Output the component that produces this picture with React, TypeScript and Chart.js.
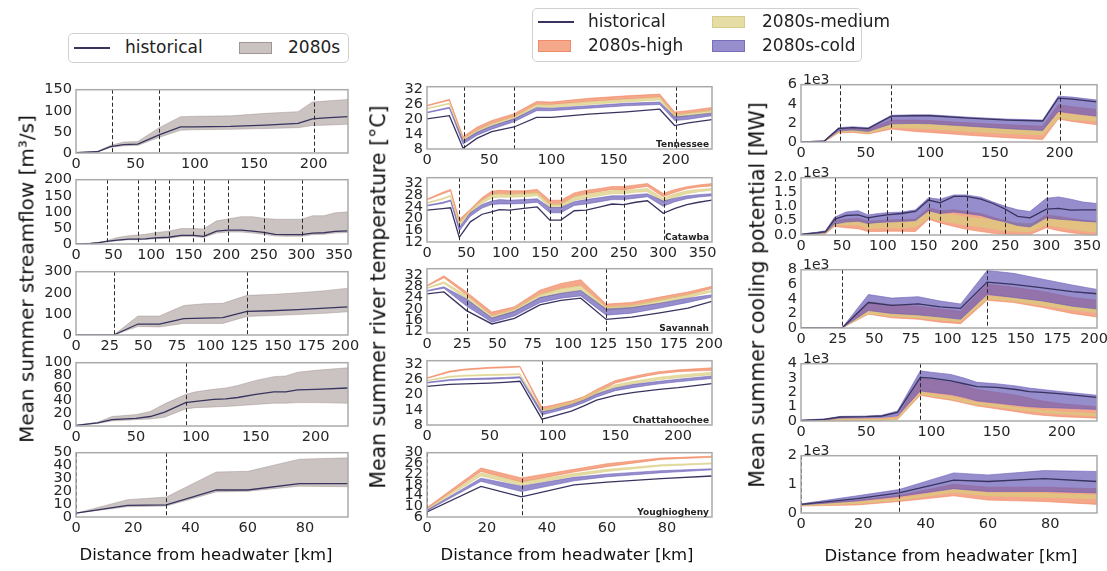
import React, { useEffect, useRef } from 'react';
import { Chart, registerables } from 'chart.js';
Chart.register(...registerables);

// ---------------- DATA ----------------
// Distances from headwater (km) for each river
const TN_X = [0, 18, 29, 40, 52, 70, 88, 100, 130, 160, 187, 199, 210, 229];
const CAT_X = [0, 20, 30, 41, 55, 70, 82, 92, 105, 123, 140, 156, 170, 187, 202, 220, 235, 250, 265, 280, 300, 315, 330, 345, 362];
const SAV_X = [0, 12, 28, 46, 62, 80, 95, 109, 127, 145, 165, 185, 202];
const CHA_X = [0, 18, 30, 50, 62, 74, 91.5, 100, 115, 125, 135, 150, 165, 175, 185, 200, 227];
const YOU_X = [0, 18, 31.5, 49, 60, 78, 95];

// Dam / confluence markers (km)
const TN_BREAKS = [30, 70, 200];
const CAT_BREAKS = [41, 82.5, 105, 123.5, 156, 170.5, 202.5, 250, 300.5];
const SAV_BREAKS = [28, 127];
const CHA_BREAKS = [91.5];
const YOU_BREAKS = [0, 31.5];

// Streamflow [m3/s]
const TN_FLOW_HIST = [1, 3, 15, 20, 21, 43, 62, 62, 63, 66, 70, 81, 83, 86];
const TN_FLOW_LO = [1, 3, 13, 17, 18, 37, 54, 55, 56, 58, 60, 65, 66, 68];
const TN_FLOW_HI = [1, 4, 18, 26, 27, 60, 86, 87, 88, 94, 98, 121, 123, 127];
const CAT_FLOW_HIST = [0, 2, 4, 8, 12, 15, 15, 16, 19, 21, 27, 27, 24, 40, 43, 43, 40, 36, 30, 29, 29, 34, 35, 39, 41];
const CAT_FLOW_LO = [0, 2, 3, 7, 10, 13, 13, 14, 16, 18, 23, 23, 20, 34, 37, 37, 34, 30, 25, 24, 24, 29, 30, 34, 36];
const CAT_FLOW_HI = [0, 3, 5, 10, 20, 26, 28, 30, 35, 40, 48, 48, 47, 72, 78, 85, 85, 80, 77, 77, 77, 88, 88, 97, 100];
const SAV_FLOW_HIST = [0, 0, 0, 52, 52, 78, 80, 82, 112, 115, 120, 127, 133];
const SAV_FLOW_LO = [0, 0, 0, 40, 38, 55, 55, 55, 88, 92, 97, 103, 110];
const SAV_FLOW_HI = [0, 0, 0, 90, 90, 140, 148, 150, 188, 192, 200, 210, 222];
const CHA_FLOW_HIST = [1, 5, 10, 12, 15, 22, 37, 39, 42, 43, 45, 50, 54, 54, 57, 58, 60];
const CHA_FLOW_LO = [1, 4, 8, 10, 11, 14, 27, 29, 30, 31, 32, 34, 36, 36, 37, 37, 36];
const CHA_FLOW_HI = [1, 6, 15, 18, 23, 35, 50, 54, 58, 60, 64, 72, 78, 79, 85, 88, 92];
const YOU_FLOW_HIST = [3, 9, 9.5, 21, 21, 26, 26];
const YOU_FLOW_LO = [3, 8, 8.5, 19.5, 20, 24, 23.5];
const YOU_FLOW_HI = [3, 13.5, 15.5, 35, 35.5, 45, 46];

// River temperature [°C]
const TN_TEMP_HIST = [20.2, 21.5, 8.3, 12.3, 15.0, 16.9, 20.8, 20.8, 22.1, 23.0, 24.1, 17.5, 18.6, 19.9];
const TN_TEMP_COLD_LO = [22.6, 24.5, 10.0, 13.5, 16.0, 19.0, 23.5, 23.5, 24.5, 25.5, 26.0, 19.5, 20.0, 21.5];
const TN_TEMP_COLD_HI = [22.9, 24.9, 11.3, 14.8, 17.3, 20.2, 24.7, 24.5, 25.5, 26.5, 27.0, 21.0, 21.5, 22.5];
const TN_TEMP_MED_LO = [24.2, 26.2, 11.0, 14.5, 17.3, 20.0, 25.0, 24.8, 26.0, 27.0, 27.8, 20.5, 21.5, 22.5];
const TN_TEMP_MED_HI = [24.5, 26.6, 12.0, 15.5, 18.2, 21.0, 26.0, 25.8, 27.0, 28.0, 28.8, 22.0, 22.5, 23.7];
const TN_TEMP_HIGH_LO = [25.4, 27.7, 12.0, 15.5, 18.2, 21.0, 26.0, 26.0, 27.2, 28.2, 29.0, 21.5, 22.5, 23.5];
const TN_TEMP_HIGH_HI = [25.7, 28.1, 13.0, 16.8, 19.5, 22.3, 27.2, 27.0, 28.5, 29.5, 30.2, 23.0, 23.5, 24.8];

const CAT_TEMP_HIST = [22.9, 23.4, 23.7, 13.6, 18.9, 21.5, 22.3, 23.1, 22.9, 23.5, 24.0, 19.5, 19.5, 22.7, 22.9, 24.0, 25.0, 24.8, 25.6, 26.1, 21.8, 23.5, 24.8, 25.6, 26.3];
const CAT_TEMP_COLD_LO = [24.3, 25.2, 26.0, 15.8, 20.8, 23.6, 24.8, 25.0, 25.0, 25.2, 25.6, 22.0, 22.0, 24.5, 25.0, 25.8, 26.5, 26.5, 27.0, 27.5, 24.2, 25.8, 26.8, 27.4, 27.8];
const CAT_TEMP_COLD_HI = [24.6, 25.6, 26.4, 17.0, 22.0, 24.8, 26.0, 26.5, 26.3, 26.5, 26.8, 23.8, 23.8, 25.8, 26.5, 27.2, 27.8, 27.8, 28.2, 28.5, 26.0, 27.0, 27.8, 28.2, 28.5];
const CAT_TEMP_MED_LO = [25.2, 26.6, 27.6, 17.5, 21.8, 25.2, 27.0, 27.3, 27.3, 27.5, 27.8, 23.8, 23.8, 26.2, 27.0, 27.8, 28.5, 28.5, 29.0, 29.2, 25.8, 27.3, 28.5, 29.2, 29.7];
const CAT_TEMP_MED_HI = [25.5, 27.0, 28.0, 18.5, 22.8, 26.2, 28.2, 28.5, 28.4, 28.6, 28.9, 25.0, 25.0, 27.5, 28.3, 29.0, 29.6, 29.6, 30.0, 30.3, 27.0, 28.5, 29.5, 30.0, 30.3];
const CAT_TEMP_HIGH_LO = [26.4, 28.5, 29.5, 18.5, 22.5, 26.2, 28.3, 28.5, 28.3, 28.5, 28.8, 24.8, 24.8, 27.5, 28.5, 29.3, 30.0, 29.8, 30.5, 31.0, 27.5, 29.0, 30.2, 30.8, 31.2];
const CAT_TEMP_HIGH_HI = [26.7, 29.0, 30.0, 19.7, 23.2, 27.2, 29.4, 29.7, 29.5, 29.5, 30.0, 26.3, 26.3, 28.8, 29.7, 30.3, 31.0, 31.0, 31.5, 32.0, 28.6, 30.0, 30.9, 31.5, 32.0];

const SAV_TEMP_HIST = [25.3, 26.0, 19.4, 14.7, 16.7, 21.4, 23.0, 23.8, 16.3, 17.1, 18.6, 20.3, 22.7];
const SAV_TEMP_COLD_LO = [26.2, 27.3, 21.0, 15.3, 17.5, 22.2, 23.8, 24.6, 17.8, 18.5, 20.3, 22.3, 24.2];
const SAV_TEMP_COLD_HI = [26.5, 27.8, 23.5, 16.8, 19.2, 24.0, 25.5, 26.5, 20.0, 20.5, 22.0, 23.8, 25.0];
const SAV_TEMP_MED_LO = [27.2, 29.0, 23.5, 16.6, 18.8, 23.8, 25.5, 26.5, 19.5, 20.2, 22.0, 24.0, 26.0];
const SAV_TEMP_MED_HI = [27.5, 29.6, 24.8, 17.6, 20.0, 25.2, 27.2, 28.2, 20.8, 21.3, 23.2, 25.0, 26.6];
const SAV_TEMP_HIGH_LO = [28.0, 31.0, 25.0, 17.5, 19.8, 25.0, 27.2, 28.3, 20.5, 21.0, 23.0, 25.0, 27.2];
const SAV_TEMP_HIGH_HI = [28.3, 31.7, 26.0, 18.9, 20.8, 26.6, 29.0, 30.3, 21.7, 22.3, 24.2, 26.0, 28.0];

const CHA_TEMP_HIST = [23.2, 24.0, 24.2, 24.5, 24.8, 25.2, 10.3, 11.4, 13.5, 15.5, 17.8, 19.7, 20.8, 21.4, 22.0, 22.7, 24.3];
const CHA_TEMP_COLD_LO = [24.5, 25.5, 25.8, 26.0, 26.2, 26.5, 12.0, 13.0, 15.0, 16.8, 19.0, 21.5, 22.8, 23.5, 24.2, 25.0, 26.3];
const CHA_TEMP_COLD_HI = [24.8, 25.9, 26.2, 26.5, 26.7, 27.0, 13.2, 14.0, 16.0, 17.8, 20.2, 22.6, 24.0, 24.6, 25.2, 26.0, 27.3];
const CHA_TEMP_MED_LO = [25.3, 26.8, 27.2, 27.5, 27.6, 27.8, 13.0, 14.0, 16.0, 17.8, 20.2, 22.8, 24.3, 25.0, 25.8, 26.6, 27.8];
const CHA_TEMP_MED_HI = [25.6, 27.2, 27.6, 27.9, 28.0, 28.2, 14.0, 15.0, 17.0, 18.8, 21.3, 23.8, 25.3, 26.0, 26.8, 27.6, 28.8];
const CHA_TEMP_HIGH_LO = [26.3, 28.8, 29.6, 30.3, 30.5, 30.8, 13.8, 14.5, 16.3, 18.0, 20.8, 24.5, 26.3, 27.3, 28.2, 29.0, 29.5];
const CHA_TEMP_HIGH_HI = [26.6, 29.2, 30.0, 30.7, 30.9, 31.1, 15.0, 15.8, 17.5, 19.2, 22.0, 25.5, 27.2, 28.2, 29.0, 29.7, 30.5];

const YOU_TEMP_HIST = [7.9, 17.4, 13.5, 18.0, 19.0, 20.3, 21.3];
const YOU_TEMP_COLD_LO = [8.3, 19.3, 15.5, 19.5, 21.0, 22.5, 23.6];
const YOU_TEMP_COLD_HI = [8.6, 20.5, 17.5, 20.8, 22.0, 23.3, 24.0];
const YOU_TEMP_MED_LO = [8.7, 21.3, 17.8, 21.2, 23.0, 25.0, 25.8];
const YOU_TEMP_MED_HI = [9.0, 22.5, 19.0, 22.2, 23.8, 25.5, 26.2];
const YOU_TEMP_HIGH_LO = [9.0, 23.0, 19.0, 22.8, 24.8, 27.5, 28.3];
const YOU_TEMP_HIGH_HI = [9.5, 24.3, 20.6, 23.8, 25.9, 28.0, 28.7];

// Cooling potential [1e3 MW]
const TN_COOL_HIST = [0, 0.1, 1.4, 1.5, 1.4, 2.7, 2.75, 2.75, 2.5, 2.3, 2.2, 4.6, 4.5, 4.2];
const TN_COOL_COLD_LO = [0, 0.08, 1.15, 1.25, 1.1, 1.9, 1.95, 1.9, 1.65, 1.4, 1.2, 3.2, 3.0, 2.7];
const TN_COOL_COLD_HI = [0, 0.12, 1.5, 1.6, 1.5, 2.8, 2.85, 2.85, 2.6, 2.4, 2.3, 4.8, 4.7, 4.4];
const TN_COOL_MED_LO = [0, 0.05, 1.05, 1.1, 0.95, 1.55, 1.45, 1.4, 1.1, 0.9, 0.75, 2.5, 2.35, 2.2];
const TN_COOL_MED_HI = [0, 0.07, 1.2, 1.3, 1.1, 1.9, 1.9, 1.85, 1.6, 1.4, 1.2, 3.0, 2.85, 2.6];
const TN_COOL_HIGH_LO = [0, 0.03, 0.95, 1.0, 0.85, 1.35, 1.1, 1.0, 0.7, 0.45, 0.25, 2.4, 2.15, 1.8];
const TN_COOL_HIGH_HI = [0, 0.09, 1.35, 1.45, 1.3, 2.3, 2.3, 2.25, 2.0, 1.8, 1.65, 3.9, 3.7, 3.4];

const CAT_COOL_HIST = [0.02, 0.08, 0.12, 0.55, 0.68, 0.7, 0.6, 0.65, 0.7, 0.75, 0.82, 1.22, 1.12, 1.35, 1.35, 1.25, 1.1, 0.9, 0.65, 0.6, 0.9, 0.93, 0.87, 0.88, 0.88];
const CAT_COOL_COLD_LO = [0.01, 0.05, 0.08, 0.38, 0.45, 0.48, 0.4, 0.43, 0.45, 0.47, 0.5, 0.85, 0.75, 0.8, 0.75, 0.68, 0.55, 0.45, 0.33, 0.28, 0.6, 0.55, 0.52, 0.48, 0.45];
const CAT_COOL_COLD_HI = [0.03, 0.1, 0.15, 0.62, 0.8, 0.85, 0.7, 0.74, 0.78, 0.8, 0.88, 1.3, 1.25, 1.4, 1.4, 1.32, 1.15, 1.0, 0.88, 0.82, 1.28, 1.33, 1.25, 1.15, 1.1];
const CAT_COOL_MED_LO = [0.0, 0.03, 0.05, 0.35, 0.35, 0.35, 0.22, 0.24, 0.25, 0.26, 0.28, 0.6, 0.5, 0.42, 0.35, 0.28, 0.22, 0.15, 0.13, 0.12, 0.35, 0.3, 0.22, 0.15, 0.1];
const CAT_COOL_MED_HI = [0.01, 0.05, 0.08, 0.45, 0.48, 0.5, 0.42, 0.45, 0.45, 0.47, 0.5, 0.8, 0.72, 0.7, 0.62, 0.58, 0.52, 0.45, 0.42, 0.4, 0.55, 0.55, 0.5, 0.47, 0.45];
const CAT_COOL_HIGH_LO = [0.0, 0.02, 0.04, 0.3, 0.25, 0.22, 0.12, 0.12, 0.13, 0.13, 0.12, 0.55, 0.42, 0.3, 0.2, 0.12, 0.06, 0.03, 0.02, 0.02, 0.25, 0.15, 0.08, 0.03, 0.0];
const CAT_COOL_HIGH_HI = [0.01, 0.06, 0.1, 0.5, 0.55, 0.58, 0.48, 0.5, 0.52, 0.54, 0.56, 0.95, 0.85, 0.88, 0.82, 0.75, 0.62, 0.5, 0.4, 0.36, 0.7, 0.65, 0.58, 0.52, 0.48];

const SAV_COOL_HIST = [0, 0, 0, 3.5, 3.1, 3.3, 2.9, 2.7, 6.3, 6.0, 5.5, 5.0, 4.7];
const SAV_COOL_COLD_LO = [0, 0, 0, 2.4, 2.0, 1.8, 1.5, 1.2, 4.6, 4.2, 3.7, 3.0, 2.6];
const SAV_COOL_COLD_HI = [0, 0, 0, 4.6, 4.1, 4.3, 3.7, 3.3, 7.9, 7.5, 6.7, 5.9, 5.3];
const SAV_COOL_MED_LO = [0, 0, 0, 2.0, 1.6, 1.4, 1.1, 0.9, 4.0, 3.7, 3.1, 2.5, 2.1];
const SAV_COOL_MED_HI = [0, 0, 0, 2.3, 1.9, 1.8, 1.5, 1.3, 4.4, 4.1, 3.6, 3.0, 2.7];
const SAV_COOL_HIGH_LO = [0, 0, 0, 1.9, 1.4, 1.2, 0.8, 0.6, 3.8, 3.5, 2.8, 2.0, 1.5];
const SAV_COOL_HIGH_HI = [0, 0, 0, 3.6, 3.2, 3.0, 2.6, 2.3, 6.0, 5.6, 5.0, 4.2, 3.8];

const CHA_COOL_HIST = [0.05, 0.12, 0.28, 0.3, 0.35, 0.6, 3.05, 3.0, 2.8, 2.6, 2.4, 2.35, 2.2, 2.05, 2.0, 1.9, 1.65];
const CHA_COOL_COLD_LO = [0.03, 0.08, 0.2, 0.22, 0.25, 0.35, 2.1, 2.0, 1.85, 1.65, 1.4, 1.25, 1.1, 1.0, 0.95, 0.9, 0.8];
const CHA_COOL_COLD_HI = [0.06, 0.15, 0.32, 0.35, 0.4, 0.7, 3.5, 3.4, 3.25, 3.0, 2.7, 2.6, 2.45, 2.3, 2.2, 2.05, 1.8];
const CHA_COOL_MED_LO = [0.01, 0.03, 0.06, 0.07, 0.08, 0.12, 1.9, 1.75, 1.55, 1.35, 1.15, 1.0, 0.8, 0.7, 0.6, 0.5, 0.35];
const CHA_COOL_MED_HI = [0.02, 0.05, 0.1, 0.12, 0.12, 0.2, 2.0, 1.9, 1.7, 1.5, 1.3, 1.15, 0.95, 0.85, 0.75, 0.65, 0.5];
const CHA_COOL_HIGH_LO = [0.01, 0.02, 0.04, 0.05, 0.06, 0.1, 1.8, 1.65, 1.45, 1.25, 1.05, 0.85, 0.65, 0.5, 0.4, 0.3, 0.2];
const CHA_COOL_HIGH_HI = [0.03, 0.08, 0.15, 0.18, 0.2, 0.3, 3.0, 2.9, 2.7, 2.5, 2.2, 2.0, 1.8, 1.6, 1.4, 1.2, 1.0];

const YOU_COOL_HIST = [0.3, 0.5, 0.7, 1.15, 1.1, 1.2, 1.1];
const YOU_COOL_COLD_LO = [0.28, 0.42, 0.58, 0.85, 0.75, 0.75, 0.7];
const YOU_COOL_COLD_HI = [0.32, 0.6, 0.82, 1.4, 1.33, 1.48, 1.45];
const YOU_COOL_MED_LO = [0.25, 0.33, 0.45, 0.72, 0.6, 0.55, 0.5];
const YOU_COOL_MED_HI = [0.27, 0.38, 0.5, 0.82, 0.7, 0.68, 0.62];
const YOU_COOL_HIGH_LO = [0.24, 0.28, 0.4, 0.6, 0.45, 0.4, 0.3];
const YOU_COOL_HIGH_HI = [0.29, 0.45, 0.62, 1.0, 0.9, 0.9, 0.85];

// Tick values / labels
const TN_XTICKS = [0, 50, 100, 150, 200];
const CAT_XTICKS = [0, 50, 100, 150, 200, 250, 300, 350];
const SAV_XTICKS = [0, 25, 50, 75, 100, 125, 150, 175, 200];
const CHA_XTICKS = [0, 50, 100, 150, 200];
const YOU_XTICKS = [0, 20, 40, 60, 80];
const TN_FLOW_YTICKS = [0, 50, 100, 150];
const CAT_FLOW_YTICKS = [0, 50, 100, 150, 200];
const SAV_FLOW_YTICKS = [0, 100, 200, 300];
const CHA_FLOW_YTICKS = [0, 20, 40, 60, 80, 100];
const YOU_FLOW_YTICKS = [0, 10, 20, 30, 40, 50];
const TN_TEMP_YTICKS = [8, 14, 20, 26, 32];
const CAT_TEMP_YTICKS = [12, 16, 20, 24, 28, 32];
const SAV_TEMP_YTICKS = [12, 16, 20, 24, 28, 32];
const CHA_TEMP_YTICKS = [8, 14, 20, 26, 32];
const YOU_TEMP_YTICKS = [6, 10, 14, 18, 22, 26, 30];
const TN_COOL_YTICKS = [0, 2, 4, 6];
const CAT_COOL_YTICKS = [0, 0.5, 1, 1.5, 2];
const CAT_COOL_YLABELS = ['0.0', '0.5', '1.0', '1.5', '2.0'];
const SAV_COOL_YTICKS = [0, 2, 4, 6, 8];
const CHA_COOL_YTICKS = [0, 1, 2, 3, 4];
const YOU_COOL_YTICKS = [0, 1, 2];

const RIVER_NAMES = ['Tennessee', 'Catawba', 'Savannah', 'Chattahoochee', 'Youghiogheny'];

// ---------------- STYLE ----------------
const FONT = "'DejaVu Sans', 'Liberation Sans', sans-serif";
const TXT = '#262626';
const HIST = '#38335f';
const FLOW_FILL = 'rgba(150,135,132,0.5)';
const HIGH_FILL = 'rgba(240,130,88,0.7)';
const MED_FILL = 'rgba(218,204,126,0.7)';
const COLD_FILL = 'rgba(105,93,184,0.7)';

const PAD_L = 60, PAD_T = 12, PAD_R = 22, AX_H = 28;

type Band = { lo: number[]; hi: number[]; fill: string };
type PanelDef = {
  x: number; y: number; w: number; h: number;
  xs: number[]; hist: number[]; bands: Band[];
  xMax: number; xTicks: number[];
  yMin: number; yMax: number; yTicks: number[]; yLabels?: string[];
  dashes: number[]; river?: string; offset?: string;
};

const framePlugin = {
  id: 'frame',
  afterDatasetsDraw(chart: any, _args: any, opts: any) {
    const { ctx, chartArea: a, scales } = chart;
    ctx.save();
    ctx.setLineDash([4, 2.5]);
    ctx.strokeStyle = '#2a2a2a';
    ctx.lineWidth = 1;
    (opts.dashes || []).forEach((d: number) => {
      const px = Math.round(scales.x.getPixelForValue(d)) + 0.5;
      ctx.beginPath();
      ctx.moveTo(px, a.top);
      ctx.lineTo(px, a.bottom);
      ctx.stroke();
    });
    ctx.setLineDash([]);
    ctx.strokeStyle = '#aaaaaa';
    ctx.lineWidth = 1.5;
    ctx.strokeRect(a.left, a.top, a.right - a.left, a.bottom - a.top);
    ctx.restore();
  },
};

function Panel({ p }: { p: PanelDef }) {
  const ref = useRef<HTMLCanvasElement>(null);
  const W = p.w + PAD_L + PAD_R;
  const H = p.h + PAD_T + AX_H;
  useEffect(() => {
    const pts = (ys: number[]) => p.xs.map((x, i) => ({ x, y: ys[i] }));
    const ds: any[] = [
      { data: pts(p.hist), borderColor: HIST, borderWidth: 1.3, pointRadius: 0, fill: false, tension: 0 },
    ];
    p.bands.forEach((b) => {
      ds.push({ data: pts(b.lo), borderColor: b.fill, borderWidth: 0.8, pointRadius: 0, fill: false, tension: 0 });
      ds.push({ data: pts(b.hi), borderColor: b.fill, borderWidth: 0.8, pointRadius: 0, fill: '-1', backgroundColor: b.fill, tension: 0 });
    });
    const tickFont = { family: FONT, size: 14.5 };
    const chart = new Chart(ref.current as HTMLCanvasElement, {
      type: 'line',
      data: { datasets: ds },
      options: {
        animation: false,
        responsive: false,
        devicePixelRatio: 1,
        events: [],
        layout: { padding: { left: 0, top: PAD_T, right: PAD_R, bottom: 0 } },
        plugins: { legend: { display: false }, tooltip: { enabled: false }, frame: { dashes: p.dashes } } as any,
        scales: {
          x: {
            type: 'linear', min: 0, max: p.xMax,
            grid: { display: false, drawTicks: false }, border: { display: false },
            ticks: { autoSkip: false, maxRotation: 0, minRotation: 0, padding: 3, font: tickFont, color: TXT,
              callback: (v: any) => String(v) },
            afterBuildTicks: (s: any) => { s.ticks = p.xTicks.map((v) => ({ value: v })); },
            afterFit: (s: any) => { s.height = AX_H; },
          },
          y: {
            type: 'linear', min: p.yMin, max: p.yMax,
            grid: { display: false, drawTicks: false }, border: { display: false },
            ticks: { autoSkip: false, padding: 4, font: tickFont, color: TXT,
              callback: (v: any, i: number) => (p.yLabels ? p.yLabels[i] : String(v)) },
            afterBuildTicks: (s: any) => { s.ticks = p.yTicks.map((v) => ({ value: v })); },
            afterFit: (s: any) => { s.width = PAD_L; },
          },
        } as any,
      },
      plugins: [framePlugin],
    });
    return () => chart.destroy();
  }, []);
  return (
    <>
      <canvas ref={ref} width={W} height={H}
        style={{ position: 'absolute', left: p.x - PAD_L, top: p.y - PAD_T, width: W, height: H }} />
      {p.river && (
        <div style={{ position: 'absolute', left: p.x + p.w - 3, top: p.y + p.h - 9.5, transform: 'translateX(-100%)',
          font: `bold 9px ${FONT}`, lineHeight: '1', color: '#222', whiteSpace: 'nowrap' }}>{p.river}</div>
      )}
      {p.offset && (
        <div style={{ position: 'absolute', left: p.x + 2, top: p.y - 12.5, font: `14px ${FONT}`, lineHeight: '1',
          color: TXT, whiteSpace: 'nowrap' }}>{p.offset}</div>
      )}
    </>
  );
}

// ---------------- LAYOUT ----------------
const COL1 = { x: 76, w: 272, tops: [89, 179, 271, 362, 452], hs: [64, 65, 64, 64, 65] };
const COL2 = { x: 427, w: 285, tops: [86, 177, 268, 360, 452], hs: [63, 65, 65, 65, 65] };
const COL3 = { x: 801, w: 296, tops: [84, 177, 269, 363, 455], hs: [58, 58, 59, 58, 58] };

const XS = [TN_X, CAT_X, SAV_X, CHA_X, YOU_X];
const XMAX = [229, 362, 202, 227, 95];
const XTICKS = [TN_XTICKS, CAT_XTICKS, SAV_XTICKS, CHA_XTICKS, YOU_XTICKS];
const BREAKS = [TN_BREAKS, CAT_BREAKS, SAV_BREAKS, CHA_BREAKS, YOU_BREAKS];

const flowSeries = [
  [TN_FLOW_HIST, TN_FLOW_LO, TN_FLOW_HI],
  [CAT_FLOW_HIST, CAT_FLOW_LO, CAT_FLOW_HI],
  [SAV_FLOW_HIST, SAV_FLOW_LO, SAV_FLOW_HI],
  [CHA_FLOW_HIST, CHA_FLOW_LO, CHA_FLOW_HI],
  [YOU_FLOW_HIST, YOU_FLOW_LO, YOU_FLOW_HI],
];
const flowY = [TN_FLOW_YTICKS, CAT_FLOW_YTICKS, SAV_FLOW_YTICKS, CHA_FLOW_YTICKS, YOU_FLOW_YTICKS];

const tempSeries = [
  [TN_TEMP_HIST, TN_TEMP_COLD_LO, TN_TEMP_COLD_HI, TN_TEMP_MED_LO, TN_TEMP_MED_HI, TN_TEMP_HIGH_LO, TN_TEMP_HIGH_HI],
  [CAT_TEMP_HIST, CAT_TEMP_COLD_LO, CAT_TEMP_COLD_HI, CAT_TEMP_MED_LO, CAT_TEMP_MED_HI, CAT_TEMP_HIGH_LO, CAT_TEMP_HIGH_HI],
  [SAV_TEMP_HIST, SAV_TEMP_COLD_LO, SAV_TEMP_COLD_HI, SAV_TEMP_MED_LO, SAV_TEMP_MED_HI, SAV_TEMP_HIGH_LO, SAV_TEMP_HIGH_HI],
  [CHA_TEMP_HIST, CHA_TEMP_COLD_LO, CHA_TEMP_COLD_HI, CHA_TEMP_MED_LO, CHA_TEMP_MED_HI, CHA_TEMP_HIGH_LO, CHA_TEMP_HIGH_HI],
  [YOU_TEMP_HIST, YOU_TEMP_COLD_LO, YOU_TEMP_COLD_HI, YOU_TEMP_MED_LO, YOU_TEMP_MED_HI, YOU_TEMP_HIGH_LO, YOU_TEMP_HIGH_HI],
];
const tempY = [TN_TEMP_YTICKS, CAT_TEMP_YTICKS, SAV_TEMP_YTICKS, CHA_TEMP_YTICKS, YOU_TEMP_YTICKS];
const tempLim = [[8, 33.2], [12, 34], [11.5, 34.2], [8, 33.3], [6, 30]];

const coolSeries = [
  [TN_COOL_HIST, TN_COOL_COLD_LO, TN_COOL_COLD_HI, TN_COOL_MED_LO, TN_COOL_MED_HI, TN_COOL_HIGH_LO, TN_COOL_HIGH_HI],
  [CAT_COOL_HIST, CAT_COOL_COLD_LO, CAT_COOL_COLD_HI, CAT_COOL_MED_LO, CAT_COOL_MED_HI, CAT_COOL_HIGH_LO, CAT_COOL_HIGH_HI],
  [SAV_COOL_HIST, SAV_COOL_COLD_LO, SAV_COOL_COLD_HI, SAV_COOL_MED_LO, SAV_COOL_MED_HI, SAV_COOL_HIGH_LO, SAV_COOL_HIGH_HI],
  [CHA_COOL_HIST, CHA_COOL_COLD_LO, CHA_COOL_COLD_HI, CHA_COOL_MED_LO, CHA_COOL_MED_HI, CHA_COOL_HIGH_LO, CHA_COOL_HIGH_HI],
  [YOU_COOL_HIST, YOU_COOL_COLD_LO, YOU_COOL_COLD_HI, YOU_COOL_MED_LO, YOU_COOL_MED_HI, YOU_COOL_HIGH_LO, YOU_COOL_HIGH_HI],
];
const coolY = [TN_COOL_YTICKS, CAT_COOL_YTICKS, SAV_COOL_YTICKS, CHA_COOL_YTICKS, YOU_COOL_YTICKS];

const scenarioBands = (s: number[][]): Band[] => [
  { lo: s[1], hi: s[2], fill: COLD_FILL },
  { lo: s[3], hi: s[4], fill: MED_FILL },
  { lo: s[5], hi: s[6], fill: HIGH_FILL },
];

const PANELS: PanelDef[] = [];
for (let i = 0; i < 5; i++) {
  PANELS.push({
    x: COL1.x, y: COL1.tops[i], w: COL1.w, h: COL1.hs[i], xs: XS[i], hist: flowSeries[i][0],
    bands: [{ lo: flowSeries[i][1], hi: flowSeries[i][2], fill: FLOW_FILL }],
    xMax: XMAX[i], xTicks: XTICKS[i], yMin: 0, yMax: flowY[i][flowY[i].length - 1], yTicks: flowY[i], dashes: BREAKS[i],
  });
  PANELS.push({
    x: COL2.x, y: COL2.tops[i], w: COL2.w, h: COL2.hs[i], xs: XS[i], hist: tempSeries[i][0],
    bands: scenarioBands(tempSeries[i]),
    xMax: XMAX[i], xTicks: XTICKS[i], yMin: tempLim[i][0], yMax: tempLim[i][1], yTicks: tempY[i], dashes: BREAKS[i],
    river: RIVER_NAMES[i],
  });
  PANELS.push({
    x: COL3.x, y: COL3.tops[i], w: COL3.w, h: COL3.hs[i], xs: XS[i], hist: coolSeries[i][0],
    bands: scenarioBands(coolSeries[i]),
    xMax: XMAX[i], xTicks: XTICKS[i], yMin: 0, yMax: coolY[i][coolY[i].length - 1], yTicks: coolY[i],
    yLabels: i === 1 ? CAT_COOL_YLABELS : undefined, dashes: BREAKS[i], offset: '1e3',
  });
}

// ---------------- TEXT HELPERS ----------------
function VTitle({ cx, cy, size, children }: any) {
  return (
    <div style={{ position: 'absolute', left: cx, top: cy, transform: 'translate(-50%,-50%) rotate(-90deg)',
      font: `${size}px ${FONT}`, lineHeight: '1.15', color: '#111', whiteSpace: 'nowrap' }}>{children}</div>
  );
}
function HTitle({ cx, top }: { cx: number; top: number }) {
  return (
    <div style={{ position: 'absolute', left: cx, top, transform: 'translateX(-50%)', font: `16.5px ${FONT}`,
      lineHeight: '1', color: '#111', whiteSpace: 'nowrap' }}>Distance from headwater [km]</div>
  );
}
function Swatch({ left, top, kind, color, edge }: any) {
  if (kind === 'line') {
    return <div style={{ position: 'absolute', left, top: top - 1, width: 36, height: 0, borderTop: `2.2px solid ${HIST}` }} />;
  }
  return <div style={{ position: 'absolute', left, top: top - 6.5, width: 33, height: 12, background: color,
    border: `1px solid ${edge}`, boxSizing: 'border-box' }} />;
}
function LText({ left, top, children }: any) {
  return <div style={{ position: 'absolute', left, top: top - 9, font: `17px ${FONT}`, lineHeight: '18px', color: '#222',
    whiteSpace: 'nowrap' }}>{children}</div>;
}

export default function App() {
  return (
    <div style={{ position: 'absolute', left: 0, top: 0, width: 1107, height: 571, overflow: 'hidden', background: '#fff' }}>
      {PANELS.map((p, i) => <Panel key={i} p={p} />)}

      {/* left legend */}
      <div style={{ position: 'absolute', left: 68, top: 33, width: 281, height: 30, border: '1px solid #d0d0d0',
        borderRadius: 5, boxSizing: 'border-box', background: 'rgba(255,255,255,0.8)' }} />
      <Swatch left={74} top={48} kind="line" />
      <LText left={125} top={47}>historical</LText>
      <Swatch left={239} top={48.5} color="rgb(203,195,194)" edge="rgb(160,150,148)" />
      <LText left={288} top={47}>2080s</LText>

      {/* middle legend */}
      <div style={{ position: 'absolute', left: 532, top: 8, width: 330, height: 54, border: '1px solid #d0d0d0',
        borderRadius: 5, boxSizing: 'border-box', background: 'rgba(255,255,255,0.8)' }} />
      <Swatch left={538} top={22} kind="line" />
      <LText left={588} top={21}>historical</LText>
      <Swatch left={712} top={22} color="rgb(230,220,165)" edge="rgb(215,203,140)" />
      <LText left={762} top={21}>2080s-medium</LText>
      <Swatch left={538} top={46} color="rgb(245,168,138)" edge="rgb(238,140,105)" />
      <LText left={588} top={45}>2080s-high</LText>
      <Swatch left={712} top={46} color="rgb(150,142,205)" edge="rgb(120,110,190)" />
      <LText left={762} top={45}>2080s-cold</LText>

      {/* axis titles */}
      <VTitle cx={27} cy={279} size={20}>Mean summer streamflow [m³/s]</VTitle>
      <VTitle cx={379} cy={297} size={20.5}>Mean summer river temperature [°C]</VTitle>
      <VTitle cx={758} cy={295} size={20.5}>Mean summer cooling potential [MW]</VTitle>
      <HTitle cx={206} top={547} />
      <HTitle cx={567} top={547} />
      <HTitle cx={951} top={548} />
    </div>
  );
}
